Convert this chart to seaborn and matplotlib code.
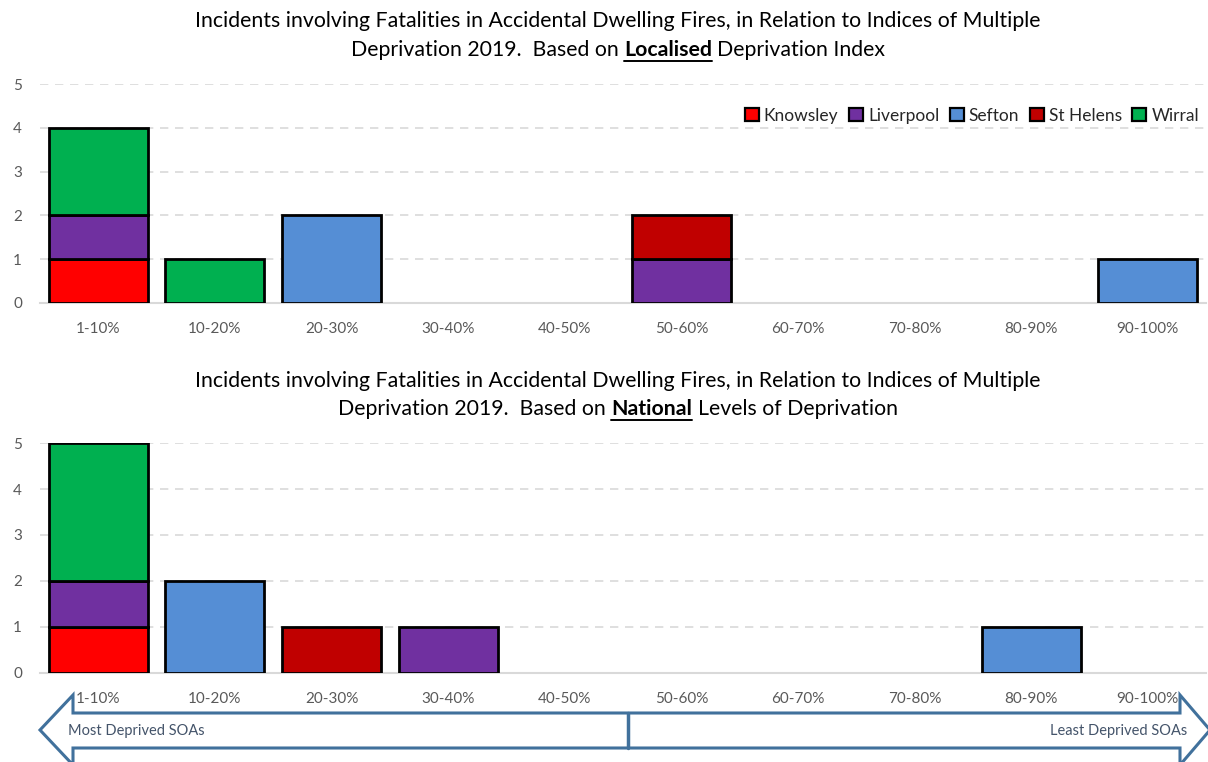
import matplotlib
matplotlib.use("Agg")
import matplotlib.pyplot as plt
from matplotlib.patches import Polygon
from matplotlib.lines import Line2D
import seaborn as sns
import pandas as pd

# ---- data -------------------------------------------------------------
bands = ["1-10%", "10-20%", "20-30%", "30-40%", "40-50%",
         "50-60%", "60-70%", "70-80%", "80-90%", "90-100%"]
districts = ["Knowsley", "Liverpool", "Sefton", "St Helens", "Wirral"]
district_colors = ["#FF0000", "#7030A0", "#558ED5", "#C00000", "#00B050"]

# fatal incidents by localised deprivation decile
local_knowsley = [1, 0, 0, 0, 0, 0, 0, 0, 0, 0]
local_liverpool = [1, 0, 0, 0, 0, 1, 0, 0, 0, 0]
local_sefton = [0, 0, 2, 0, 0, 0, 0, 0, 0, 1]
local_sthelens = [0, 0, 0, 0, 0, 1, 0, 0, 0, 0]
local_wirral = [2, 1, 0, 0, 0, 0, 0, 0, 0, 0]

# fatal incidents by national deprivation decile
nat_knowsley = [1, 0, 0, 0, 0, 0, 0, 0, 0, 0]
nat_liverpool = [1, 0, 0, 1, 0, 0, 0, 0, 0, 0]
nat_sefton = [0, 2, 0, 0, 0, 0, 0, 0, 1, 0]
nat_sthelens = [0, 0, 1, 0, 0, 0, 0, 0, 0, 0]
nat_wirral = [3, 0, 0, 0, 0, 0, 0, 0, 0, 0]

y_ticks = [0, 1, 2, 3, 4, 5]

local_series = [local_knowsley, local_liverpool, local_sefton, local_sthelens, local_wirral]
nat_series = [nat_knowsley, nat_liverpool, nat_sefton, nat_sthelens, nat_wirral]

# ---- style ------------------------------------------------------------
sns.set_style("white")
FONT = ["Lato", "DejaVu Sans"]
plt.rcParams["font.family"] = FONT
TICK_COLOR = "#595959"
GRID_COLOR = "#D9D9D9"

W, H = 1208, 762
fig = plt.figure(figsize=(W / 100, H / 100), dpi=100)


def fx(px):
    return px / W


def fy(py):
    return 1 - py / H


ax1 = fig.add_axes([fx(40), fy(303), fx(1166), (303 - 84) / H])
ax2 = fig.add_axes([fx(40), fy(673), fx(1166), (673 - 443) / H])


def stacked(ax, series):
    bottom = [0] * len(bands)
    for name, vals, col in zip(districts, series, district_colors):
        df = pd.DataFrame({"band": bands, "count": vals})
        sns.barplot(data=df, x="band", y="count", order=bands, color=col,
                    bottom=bottom, width=0.85, edgecolor="black",
                    linewidth=2.0, saturation=1, ax=ax, zorder=3, label=name)
        bottom = [b + v for b, v in zip(bottom, vals)]
    # empty segments would leave a stray outline on the baseline
    for p in ax.patches:
        if p.get_height() == 0:
            p.set_visible(False)
    ax.set_ylim(0, 5)
    ax.set_xlim(-0.5, len(bands) - 0.5)
    ax.set_yticks(y_ticks)
    ax.set_xlabel("")
    ax.set_ylabel("")
    ax.yaxis.grid(True, color=GRID_COLOR, linestyle=(0, (5, 4)), linewidth=1.2, zorder=0)
    ax.set_axisbelow(True)
    for s in ["top", "right", "left"]:
        ax.spines[s].set_visible(False)
    ax.spines["bottom"].set_color(GRID_COLOR)
    ax.spines["bottom"].set_linewidth(1.5)
    ax.tick_params(axis="both", length=0, colors=TICK_COLOR, labelsize=11)
    ax.tick_params(axis="x", pad=14)
    ax.tick_params(axis="y", pad=13)
    if ax.get_legend() is not None:
        ax.get_legend().remove()


stacked(ax1, local_series)
stacked(ax2, nat_series)

handles = [plt.Rectangle((0, 0), 1, 1, facecolor=c, edgecolor="black", linewidth=1.6)
           for c in district_colors]
ax1.legend(handles, districts, loc="center right", bbox_to_anchor=(1.0, 0.855),
           ncol=5, frameon=False, fontsize=12.5, handlelength=0.8, handleheight=0.8,
           handletextpad=0.3, columnspacing=0.6, borderaxespad=0)
for t in ax1.get_legend().get_texts():
    t.set_color("#262626")

# ---- titles -----------------------------------------------------------
TITLE_SIZE = 15.3
renderer = fig.canvas.get_renderer()


def text_width(s, weight="normal"):
    t = fig.text(0, 0, s, fontsize=TITLE_SIZE, fontweight=weight)
    w = t.get_window_extent(renderer).width
    t.remove()
    return w


def title_block(line1, parts, y1, y2, cx=618):
    fig.text(fx(cx), fy(y1), line1, ha="center", va="center",
             fontsize=TITLE_SIZE, color="black")
    space = text_width("x x") - text_width("xx")
    widths = [text_width(s, w) for s, w, _ in parts]
    total = sum(widths) + space * (len(parts) - 1)
    x = cx - total / 2
    for (s, w, ul), wd in zip(parts, widths):
        fig.text(fx(x), fy(y2), s, ha="left", va="center",
                 fontsize=TITLE_SIZE, fontweight=w, color="black")
        if ul:
            fig.add_artist(Line2D([fx(x), fx(x + wd)], [fy(y2 + 11), fy(y2 + 11)],
                                  color="black", linewidth=1.4))
        x += wd + space


title_block("Incidents involving Fatalities in Accidental Dwelling Fires, in Relation to Indices of Multiple",
            [("Deprivation 2019.  Based on", "normal", False),
             ("Localised", "bold", True),
             ("Deprivation Index", "normal", False)], 21, 50)
title_block("Incidents involving Fatalities in Accidental Dwelling Fires, in Relation to Indices of Multiple",
            [("Deprivation 2019.  Based on", "normal", False),
             ("National", "bold", True),
             ("Levels of Deprivation", "normal", False)], 381, 409)

# ---- deprivation direction arrow ---------------------------------------
ARROW_COLOR = "#41719C"
outline_px = [(40, 730), (73, 695), (73, 713), (1180, 713), (1180, 695),
              (1210, 730), (1180, 765), (1180, 748), (73, 748), (73, 765)]
fig.add_artist(Polygon([(fx(x), fy(y)) for x, y in outline_px], closed=True,
                       facecolor="white", edgecolor=ARROW_COLOR, linewidth=2.2,
                       transform=fig.transFigure, zorder=0))
fig.add_artist(Line2D([fx(628), fx(628)], [fy(713), fy(748)],
                      color=ARROW_COLOR, linewidth=2.5))
fig.text(fx(68), fy(731), "Most Deprived SOAs", ha="left", va="center",
         fontsize=10.5, color="#44546A")
fig.text(fx(1187), fy(731), "Least Deprived SOAs", ha="right", va="center",
         fontsize=10.5, color="#44546A")

fig.savefig("out.png", dpi=100, facecolor="white")
